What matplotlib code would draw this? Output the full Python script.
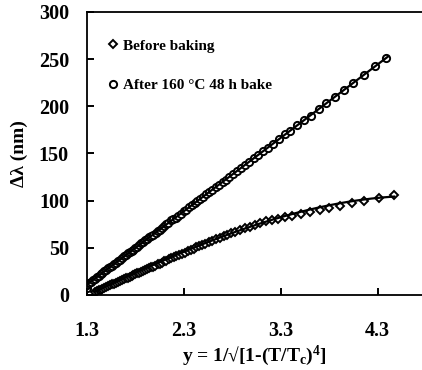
import numpy as np
import matplotlib
matplotlib.use('Agg')
import matplotlib.pyplot as plt

plt.rcParams['font.family'] = ['Liberation Serif', 'DejaVu Serif']
plt.rcParams['font.weight'] = 'bold'
plt.rcParams['mathtext.fontset'] = 'custom'
plt.rcParams['mathtext.rm'] = 'Liberation Serif:bold'
plt.rcParams['mathtext.it'] = 'Liberation Serif:bold'
plt.rcParams['mathtext.bf'] = 'Liberation Serif:bold'

# Before baking (diamonds)
before_x = [1.38, 1.40, 1.42, 1.44, 1.46, 1.48, 1.50, 1.52, 1.54, 1.56, 1.58, 1.60,
            1.62, 1.64, 1.66, 1.68, 1.70, 1.72, 1.74, 1.76, 1.78, 1.80, 1.82, 1.84,
            1.86, 1.88, 1.90, 1.92, 1.94, 1.96, 1.98, 2.00, 2.03, 2.05, 2.07, 2.10,
            2.12, 2.15, 2.17, 2.20, 2.22, 2.25, 2.28, 2.31, 2.34, 2.37, 2.40, 2.43,
            2.46, 2.49, 2.52, 2.56, 2.59, 2.63, 2.67, 2.71, 2.75, 2.79, 2.83, 2.88,
            2.93, 2.98, 3.03, 3.09, 3.15, 3.21, 3.27, 3.34, 3.42, 3.51, 3.60, 3.70,
            3.80, 3.91, 4.03, 4.16, 4.31, 4.47]
before_y = [3.0, 3.9, 4.8, 5.7, 6.6, 7.5, 8.4, 9.3, 10.2, 11.1, 12.0, 12.9,
            13.8, 14.7, 15.6, 16.5, 17.4, 18.3, 19.2, 20.1, 21.0, 21.9, 22.8, 23.7,
            24.6, 25.5, 26.4, 27.3, 28.2, 29.1, 30.0, 30.9, 32.3, 33.2, 34.1, 35.4,
            36.3, 37.7, 38.6, 39.9, 40.8, 42.2, 43.5, 44.9, 46.2, 47.6, 48.9, 50.3,
            51.6, 52.9, 54.3, 56.0, 57.3, 59.0, 60.6, 62.2, 63.8, 65.3, 66.8, 68.6,
            70.4, 72.2, 73.9, 75.9, 77.8, 79.2, 80.6, 82.2, 84.0, 86.0, 88.0, 90.0,
            92.2, 94.6, 97.0, 99.5, 102.5, 106.0]

# After 160 C 48 h bake (circles)
after_x = [1.30, 1.30, 1.32, 1.34, 1.36, 1.38, 1.40, 1.42, 1.44, 1.46, 1.48, 1.50,
           1.52, 1.54, 1.56, 1.58, 1.60, 1.62, 1.64, 1.66, 1.68, 1.70, 1.72, 1.74,
           1.76, 1.78, 1.80, 1.82, 1.84, 1.86, 1.88, 1.90, 1.92, 1.94, 1.96, 1.98,
           2.01, 2.03, 2.05, 2.07, 2.10, 2.12, 2.14, 2.17, 2.19, 2.22, 2.24, 2.27,
           2.30, 2.32, 2.35, 2.38, 2.41, 2.44, 2.47, 2.50, 2.53, 2.56, 2.59, 2.63,
           2.66, 2.70, 2.73, 2.77, 2.81, 2.85, 2.89, 2.93, 2.97, 3.02, 3.07, 3.12,
           3.17, 3.22, 3.28, 3.34, 3.40, 3.47, 3.54, 3.61, 3.69, 3.77, 3.86, 3.95,
           4.05, 4.16, 4.27, 4.39]
after_y = [7, 11, 13, 14, 16, 17, 19, 20, 22, 23, 25, 26.5,
           28, 30, 31, 33, 34, 36, 37, 39, 41, 42, 44, 45,
           47, 48, 50, 51, 53, 55, 56, 58, 59, 61, 62, 64,
           66, 68, 69, 71, 73, 75, 76, 79, 80, 82, 84, 86,
           89, 90, 93, 95, 97, 100, 102, 104, 107, 109, 111, 114,
           117, 120, 122, 125, 128, 131, 135, 138, 141, 145, 148.5, 152,
           156, 160, 165, 170, 174, 180, 185, 190, 197, 203, 210, 217,
           225, 233, 243, 251]

fig = plt.figure(figsize=(4.22, 3.70), dpi=100)
ax = fig.add_axes([0.206, 0.203, 0.794, 0.765])

mk = dict(linestyle='none', markerfacecolor='white', markeredgecolor='black',
          markeredgewidth=1.4)
ax.plot(before_x, before_y, marker='D', markersize=4.5, label='Before baking', **mk)
ax.plot(after_x, after_y, marker='o', markersize=5.2,
        label='After 160 \u00b0C 48 h bake', **mk)

# fit lines
pb = np.polyfit(before_x, before_y, 3)
xb = np.linspace(min(before_x), max(before_x), 200)
ax.plot(xb, np.polyval(pb, xb) + 1.0, color='black', lw=1.6)
pa = np.polyfit(after_x, after_y, 1)
xa = np.linspace(1.28, 4.41, 200)
ax.plot(xa, np.polyval(pa, xa), color='black', lw=1.6)

ax.set_xlim(1.3, 4.757)
ax.set_ylim(0, 300)
ax.set_xticks([1.3, 2.3, 3.3, 4.3])
ax.set_xticklabels(['1.3', '2.3', '3.3', '4.3'])
ax.set_yticks(range(0, 301, 50))

ax.spines['right'].set_visible(False)
for s in ['left', 'top', 'bottom']:
    ax.spines[s].set_linewidth(1.3)
ax.tick_params(axis='both', direction='in', length=5, width=1.4, labelsize=14.5)
ax.tick_params(axis='x', pad=19)
ax.tick_params(axis='y', pad=13)
for lb in ax.get_xticklabels() + ax.get_yticklabels():
    lb.set_fontweight('bold')

ax.set_xlabel('y = 1/\u221a[1-(T/T$_\\mathregular{c}$)$^\\mathregular{4}$]',
              fontsize=14, fontweight='bold', labelpad=2)
ax.set_ylabel('\u0394\u03bb (nm)', fontsize=14, fontweight='bold', labelpad=8)

ax.legend(loc='upper left', bbox_to_anchor=(0.036, 0.926), frameon=False,
          handletextpad=0.2, handlelength=1.0, labelspacing=1.7, borderaxespad=0,
          prop={'weight': 'bold', 'size': 11})

fig.savefig('out.png', dpi=100)
